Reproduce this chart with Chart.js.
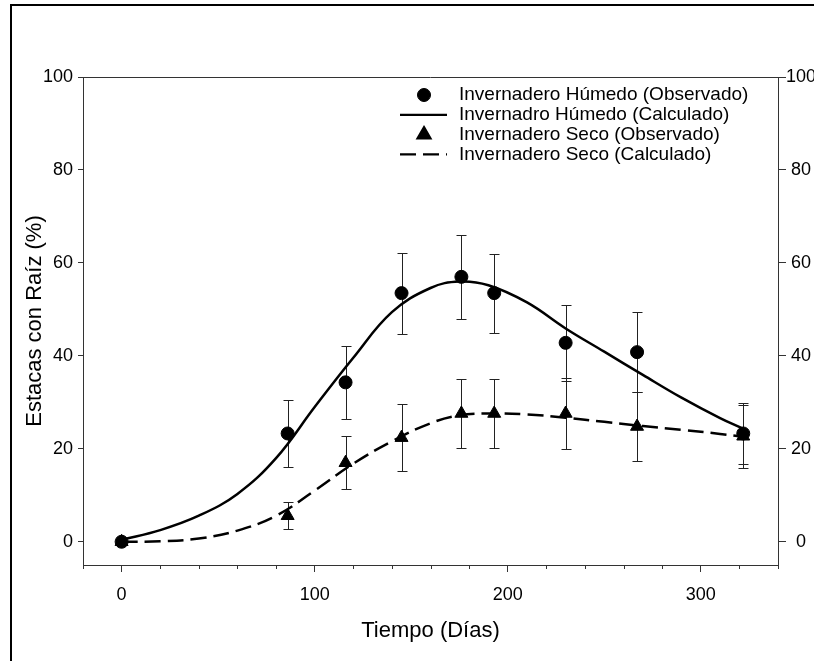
<!DOCTYPE html>
<html>
<head>
<meta charset="utf-8">
<script src="https://cdn.jsdelivr.net/npm/chart.js@4.4.0/dist/chart.umd.min.js"></script>
<style>
  body { margin: 0; background: #fff; }
  #wrap { position: relative; width: 814px; height: 661px; overflow: hidden; }
  #frame { position: absolute; left: 10px; top: 4px; width: 900px; height: 900px; border: 2px solid #000; pointer-events: none; }
</style>
</head>
<body>
<div id="wrap">
  <canvas id="myChart" width="814" height="661"></canvas>
  <div id="frame"></div>
</div>
<script>
// observed points (days, % rooted cuttings, error)
const diasObs = [0, 86, 116, 145, 176, 193, 230, 267, 322];
const humedoObs = [0, 23.3, 34.3, 53.5, 57, 53.5, 42.8, 40.8, 23.3];
const humedoErr = [0, 7.3, 7.9, 8.7, 9, 8.5, 8.2, 8.6, 6.5];
const secoObs = [0, 5.6, 17, 22.4, 27.6, 27.6, 27.6, 24.8, 22.7];
const secoErr = [0, 2.9, 5.7, 7.2, 7.5, 7.5, 7.6, 7.5, 6.8];

// fitted curves
const diasCalc = [0, 20, 40, 60, 80, 100, 120, 140, 160, 175, 190, 210, 230, 250, 270, 290, 310, 322];
const humedoCalc = [0.4, 2.5, 5.6, 10.3, 18, 29, 39.6, 49.4, 54.6, 56, 55.2, 51.5, 45.9, 40.9, 35.9, 31.0, 26.6, 24.3];
const secoCalc = [0, 0.1, 0.7, 2.4, 5.6, 11, 16.8, 21.6, 25.5, 27.2, 27.6, 27.4, 26.7, 25.8, 24.9, 24.1, 23.2, 22.6];

const xTicks = [-20, 0, 20, 40, 60, 80, 100, 120, 140, 160, 180, 200, 220, 240, 260, 280, 300, 320, 340];
const xLabels = [0, 100, 200, 300];
const yTicks = [0, 20, 40, 60, 80, 100];

const seriesNames = [
  "Invernadero Húmedo (Observado)",
  "Invernadro Húmedo (Calculado)",
  "Invernadero Seco (Observado)",
  "Invernadero Seco (Calculado)",
];

const FONT = "'Liberation Sans', Arial, sans-serif";
const AXIS = "#333";

function pairs(xs, ys) {
  return xs.map((x, i) => ({ x: x, y: ys[i] }));
}

// error bars under the markers
const errorBars = {
  id: "errorBars",
  beforeDatasetsDraw(chart) {
    const ctx = chart.ctx;
    const xs = chart.scales.x, ys = chart.scales.y;
    const sets = [[humedoObs, humedoErr], [secoObs, secoErr]];
    ctx.save();
    ctx.strokeStyle = "#222";
    ctx.lineWidth = 1;
    sets.forEach(([vals, errs]) => {
      vals.forEach((v, i) => {
        if (!errs[i]) return;
        const px = Math.round(xs.getPixelForValue(diasObs[i])) + 0.5;
        const top = Math.round(ys.getPixelForValue(v + errs[i])) + 0.5;
        const bot = Math.round(ys.getPixelForValue(v - errs[i])) + 0.5;
        ctx.beginPath();
        ctx.moveTo(px, top); ctx.lineTo(px, bot);
        ctx.moveTo(px - 5, top); ctx.lineTo(px + 5, top);
        ctx.moveTo(px - 5, bot); ctx.lineTo(px + 5, bot);
        ctx.stroke();
      });
    });
    ctx.restore();
  },
};

// box top line, minor x ticks and legend
const extras = {
  id: "extras",
  afterDraw(chart) {
    const ctx = chart.ctx;
    const a = chart.chartArea;
    const xs = chart.scales.x;
    ctx.save();
    ctx.strokeStyle = AXIS;
    ctx.lineWidth = 1;
    ctx.beginPath();
    ctx.moveTo(a.left, Math.round(a.top) + 0.5);
    ctx.lineTo(a.right, Math.round(a.top) + 0.5);
    xTicks.forEach((v) => {
      if (xLabels.includes(v)) return;
      const px = Math.round(xs.getPixelForValue(v)) + 0.5;
      ctx.moveTo(px, a.bottom);
      ctx.lineTo(px, a.bottom + 4);
    });
    ctx.stroke();

    // legend
    const lx = a.left + 376;
    const ly = a.top + 18;
    ctx.font = "19px " + FONT;
    ctx.textBaseline = "middle";
    ctx.textAlign = "left";
    chart.data.datasets.forEach((ds, i) => {
      const y = ly + i * 19.8;
      ctx.fillStyle = "#000";
      ctx.strokeStyle = "#000";
      if (ds.showLine) {
        ctx.lineWidth = 2.2;
        ctx.setLineDash(ds.borderDash || []);
        ctx.beginPath();
        ctx.moveTo(lx - 59, y);
        ctx.lineTo(lx - 12, y);
        ctx.stroke();
        ctx.setLineDash([]);
      } else {
        Chart.helpers.drawPoint(ctx, {
          pointStyle: ds.pointStyle, radius: ds.pointRadius, rotation: 0, borderWidth: 1,
        }, lx - 35, y);
      }
      ctx.fillStyle = "#000";
      ctx.fillText(ds.label, lx, y);
    });
    ctx.restore();
  },
};

const ctx = document.getElementById("myChart").getContext("2d");
const myChart = new Chart(ctx, {
  type: "scatter",
  data: {
    datasets: [
      {
        label: seriesNames[0],
        data: pairs(diasObs, humedoObs),
        pointStyle: "circle",
        pointRadius: 6.5,
        backgroundColor: "#000",
        borderColor: "#000",
        showLine: false,
      },
      {
        label: seriesNames[1],
        data: pairs(diasCalc, humedoCalc),
        showLine: true,
        pointRadius: 0,
        borderColor: "#000",
        borderWidth: 2.5,
        tension: 0.4,
      },
      {
        label: seriesNames[2],
        data: pairs(diasObs, secoObs),
        pointStyle: "triangle",
        pointRadius: 7.5,
        backgroundColor: "#000",
        borderColor: "#000",
        showLine: false,
      },
      {
        label: seriesNames[3],
        data: pairs(diasCalc, secoCalc),
        showLine: true,
        pointRadius: 0,
        borderColor: "#000",
        borderWidth: 2.5,
        borderDash: [16, 7],
        tension: 0.4,
      },
    ],
  },
  options: {
    responsive: false,
    animation: false,
    layout: { padding: { top: 77, left: 0, right: 0, bottom: 0 } },
    plugins: { legend: { display: false }, tooltip: { enabled: false } },
    scales: {
      x: {
        type: "linear",
        min: -20,
        max: 340,
        afterBuildTicks: (s) => { s.ticks = xTicks.map((v) => ({ value: v })); },
        afterFit: (s) => { s.height = 96; },
        grid: {
          drawOnChartArea: false,
          tickLength: 7,
          color: AXIS,
          tickColor: (c) => (c.tick && xLabels.includes(c.tick.value) ? AXIS : "rgba(0,0,0,0)"),
        },
        border: { color: AXIS, width: 1 },
        ticks: {
          autoSkip: false,
          maxRotation: 0,
          padding: 12,
          color: "#000",
          font: { family: FONT, size: 18 },
          callback: (v) => (xLabels.includes(v) ? String(v) : ""),
        },
        title: {
          display: true,
          text: "Tiempo (Días)",
          color: "#000",
          font: { family: FONT, size: 22 },
          padding: { top: 4, bottom: 17 },
        },
      },
      y: {
        position: "left",
        min: -5,
        max: 100,
        afterBuildTicks: (s) => { s.ticks = yTicks.map((v) => ({ value: v })); },
        afterFit: (s) => { s.width = 83; },
        grid: { drawOnChartArea: false, tickLength: 5, color: AXIS },
        border: { color: AXIS, width: 1 },
        ticks: { padding: 5, color: "#000", font: { family: FONT, size: 18 } },
        title: {
          display: true,
          text: "Estacas con Raíz (%)",
          color: "#000",
          font: { family: FONT, size: 22 },
          padding: { top: 22, bottom: 0 },
        },
      },
      y2: {
        position: "right",
        min: -5,
        max: 100,
        afterBuildTicks: (s) => { s.ticks = yTicks.map((v) => ({ value: v })); },
        afterFit: (s) => { s.width = 36; },
        grid: { drawOnChartArea: false, tickLength: 8, color: AXIS },
        border: { color: AXIS, width: 1 },
        ticks: { padding: 0, crossAlign: "center", color: "#000", font: { family: FONT, size: 18 } },
      },
    },
  },
  plugins: [errorBars, extras],
});
</script>
</body>
</html>
